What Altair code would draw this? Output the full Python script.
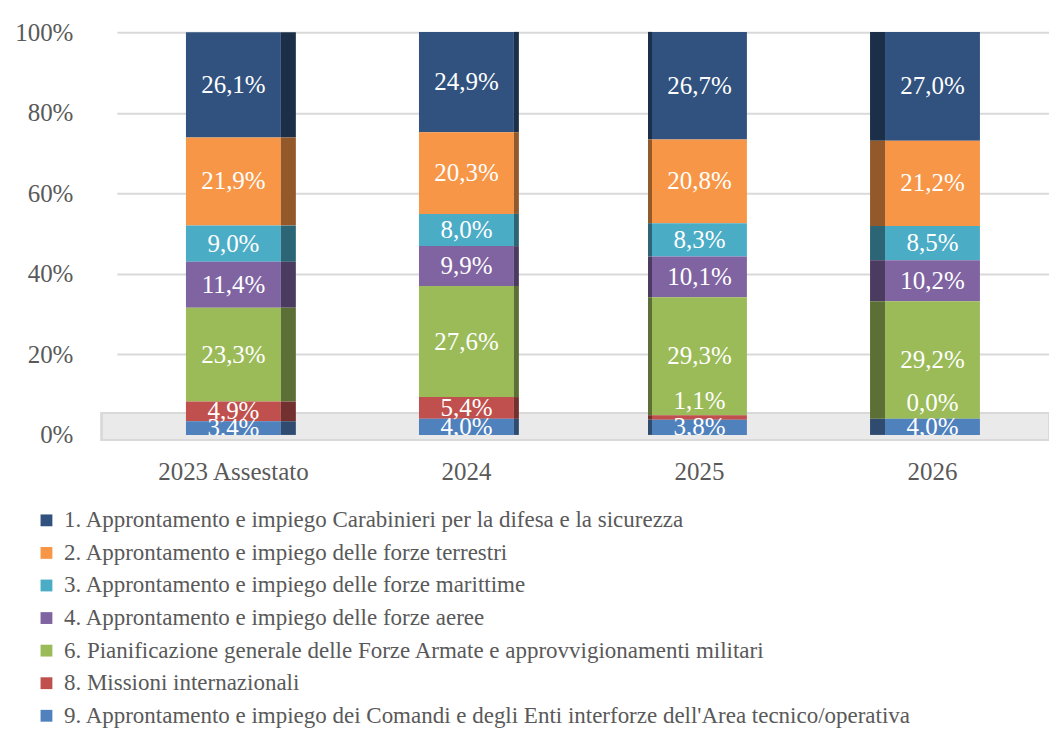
import altair as alt
import pandas as pd

years = ["2023 Assestato", "2024", "2025", "2026"]
series = [
    "1. Approntamento e impiego Carabinieri per la difesa e la sicurezza",
    "2. Approntamento e impiego delle forze terrestri",
    "3. Approntamento e impiego delle forze marittime",
    "4. Approntamento e impiego delle forze aeree",
    "6. Pianificazione generale delle Forze Armate e approvvigionamenti militari",
    "8. Missioni internazionali",
    "9. Approntamento e impiego dei Comandi e degli Enti interforze dell'Area tecnico/operativa",
]
s1 = [26.1, 24.9, 26.7, 27.0]
s2 = [21.9, 20.3, 20.8, 21.2]
s3 = [9.0, 8.0, 8.3, 8.5]
s4 = [11.4, 9.9, 10.1, 10.2]
s6 = [23.3, 27.6, 29.3, 29.2]
s8 = [4.9, 5.4, 1.1, 0.0]
s9 = [3.4, 4.0, 3.8, 4.0]
all_vals = [s1, s2, s3, s4, s6, s8, s9]

colors = ["#31527E", "#F79646", "#4BACC6", "#8064A2", "#9BBB59", "#C0504D", "#4F81BD"]
dark = ["#1C2F49", "#94592A", "#2C6676", "#4C3B60", "#5C7035", "#72302E", "#2F4C70"]

rows = []
for i, (name, vals) in enumerate(zip(series, all_vals)):
    for y, v in zip(years, vals):
        rows.append({"year": y, "serie": name, "v": v, "rank": i})
df = pd.DataFrame(rows)

W, H = 933, 403
FONT = "Liberation Serif"

base = alt.Chart(df).transform_stack(
    stack="v", groupby=["year"],
    sort=[alt.SortField("rank", order="descending")],
    as_=["v0", "v1"],
).transform_calculate(
    mid="(datum.v0 + datum.v1) / 2",
    lab="replace(format(datum.v, '.1f'), '.', ',') + '%'",
)

xaxis = alt.Axis(title=None, labelAngle=0, labelAlign="center", labelBaseline="top",
                 domain=False, ticks=False, labelFont=FONT, labelFontSize=25,
                 labelColor="#595959", labelPadding=25)
xscale = alt.Scale(domain=years, paddingInner=0, paddingOuter=0)
xenc = alt.X("year:N", sort=years, scale=xscale, axis=xaxis)
yscale = alt.Scale(domain=[0, 100], nice=False)
yaxis = alt.Axis(title=None, values=[0, 20, 40, 60, 80, 100], labelExpr="datum.value + '%'",
                 domain=False, ticks=False, labelFont=FONT, labelFontSize=25, labelColor="#595959",
                 labelPadding=44, gridColor="#D9D9D9", gridWidth=2)
yenc_axis = lambda f: alt.Y(f, scale=yscale, axis=yaxis)

floor = alt.Chart(df).mark_rect(color="#EAEAEA", stroke="#D9D9D9", strokeWidth=2).encode(
    x=alt.value(-15), x2=alt.value(W), y=alt.value(H - 22), y2=alt.value(H + 5)
)

front = base.mark_bar(size=95).encode(
    x=xenc,
    y=yenc_axis("v0:Q"),
    y2="v1:Q",
    color=alt.Color("serie:N", scale=alt.Scale(domain=series, range=colors),
                    legend=alt.Legend(title=None, orient="none", legendX=-82, legendY=477,
                                      symbolType="square", symbolSize=140, symbolStrokeWidth=0,
                                      labelFont=FONT, labelFontSize=23, labelColor="#595959",
                                      labelLimit=0, labelOffset=6, rowPadding=8.6,
                                      direction="vertical")),
)

side_specs = [("2023 Assestato", 15, 55), ("2024", 5, 50), ("2025", 4, -49.5), ("2026", 15, -55)]
sides = []
for yr, wd, off in side_specs:
    sides.append(
        base.transform_filter(alt.datum.year == yr).mark_bar(size=wd, xOffset=off).encode(
            x=xenc,
            y=yenc_axis("v0:Q"),
            y2="v1:Q",
            color=alt.Color("serie:N", scale=alt.Scale(domain=series, range=dark), legend=None),
        )
    )

text_big = base.transform_filter("datum.v >= 2").mark_text(
    color="white", font=FONT, fontSize=25, baseline="middle", clip=True
).encode(x=xenc, y=yenc_axis("mid:Q"), text="lab:N")

text_small = base.transform_filter("datum.v < 2").mark_text(
    color="white", font=FONT, fontSize=25, baseline="middle", dy=-16, clip=True
).encode(x=xenc, y=yenc_axis("mid:Q"), text="lab:N")

chart = alt.layer(floor, front, *sides, text_big, text_small).resolve_scale(
    color="independent"
).properties(
    width=W, height=H,
    autosize=alt.AutoSizeParams(type="none"),
    padding={"left": 109, "top": 24, "right": 0, "bottom": 293},
).configure_view(stroke=None)

chart.save("out.html", embed_options={"renderer": "svg", "actions": False})
